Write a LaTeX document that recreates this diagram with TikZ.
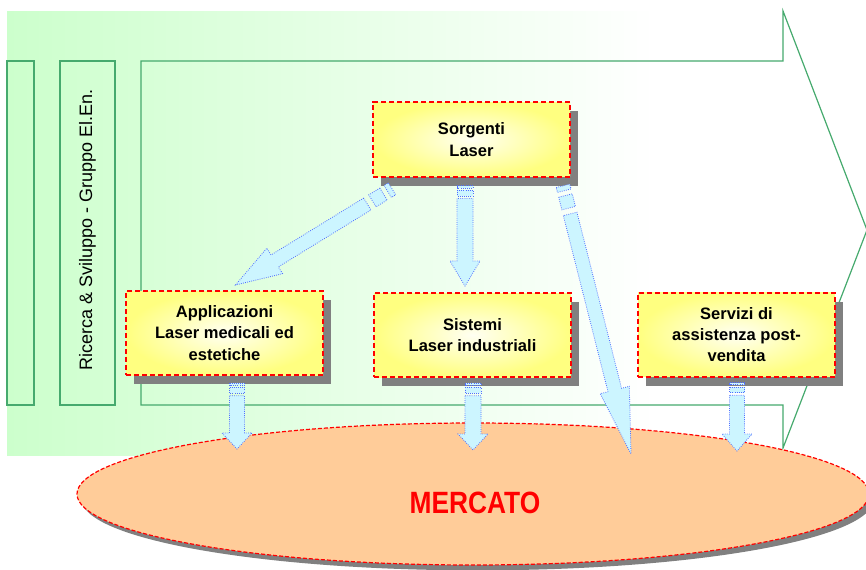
\documentclass[tikz,border=0pt]{standalone}
\usepackage{fontspec}
\setmainfont{Liberation Sans}
\usetikzlibrary{calc,shapes.geometric,shadows}

\definecolor{framegreen}{RGB}{70,170,110}
\definecolor{bggreen}{RGB}{204,255,204}
\definecolor{marketfill}{RGB}{255,204,153}
\definecolor{flowfill}{RGB}{204,245,255}
\definecolor{flowline}{RGB}{80,110,255}

% striped block arrow: from, to, head length, shaft half width, tail unit
\newcommand{\flowarrow}[5]{%
  \pgfpointdiff{\pgfpointanchor{#1}{center}}{\pgfpointanchor{#2}{center}}%
  \pgfgetlastxy{\flx}{\fly}%
  \pgfmathsetmacro{\flang}{atan2(\fly,\flx)}%
  \pgfmathsetmacro{\fllen}{veclen(\flx,\fly)/0.75}%
  \pgfmathsetmacro{\flhb}{\fllen-#3}%
  \begin{scope}[shift={(#1)}, rotate=\flang, x=0.75pt, y=0.75pt]
    \draw[flow] (0,-#4) rectangle (#5,#4);
    \draw[flow] (2*#5,-#4) rectangle (4.6*#5,#4);
    \draw[flow] (5.8*#5,-#4) -- (\flhb,-#4) -- (\flhb,-15) -- (\fllen,0)
      -- (\flhb,15) -- (\flhb,#4) -- (5.8*#5,#4) -- cycle;
  \end{scope}}

\begin{document}
\begin{tikzpicture}[x=0.75pt, y=-0.75pt,
    unit/.style = {draw=red, line width=1.5pt, dash pattern=on 3.75pt off 2.25pt,
      inner color=yellow!5, outer color=yellow!50,
      minimum width=147.75pt, minimum height=63pt, align=center,
      font=\fontsize{12.4}{16}\selectfont\bfseries,
      drop shadow={shadow xshift=6pt, shadow yshift=-6.75pt, fill=black!50, opacity=1}},
    market/.style = {ellipse, draw=red, line width=0.9pt, dash pattern=on 3pt off 1.5pt,
      fill=marketfill,
      drop shadow={shadow xshift=3.5pt, shadow yshift=-4pt, fill=black!50, opacity=1}},
    flow/.style = {fill=flowfill, draw=flowline, densely dotted, line width=0.6pt},
    frame/.style = {draw=framegreen, line width=0.9pt}]

        \fill[white] (0,0) rectangle (866,570);
        \useasboundingbox (0,0) rectangle (866,570);

        % Background
        \shade[left color=bggreen, right color=white] (7,12) rectangle (655,455);

        % Big arrow
        \draw[frame] (141,61) -- (783,61) -- (783,11) -- (867,230) -- (783,448)
          -- (783,405) -- (141,405) -- cycle;

        % Side bars
        \draw[frame] (7,61) rectangle (34,405);
        \draw[frame] (60,61) rectangle (115,405);
        \node[rotate=90, font=\fontsize{13.5}{16}\selectfont] (rs) at (87.5,230)
          {Ricerca \& Sviluppo - Gruppo El.En.};

        % Market
        \node[market, minimum width=594pt, minimum height=106.5pt] (merc) at (473,494) {};
        \node[text=red, font=\fontsize{21}{24}\selectfont\bfseries] (merclbl) at (475,503)
          {\scalebox{0.94}[1.1]{MERCATO}};

        % Units
        \node[unit, minimum height=56pt] (sorg) at (471.5,139.5) {Sorgenti\\Laser};
        \node[unit] (appl) at (224.5,333) {Applicazioni\\Laser medicali ed\\estetiche};
        \node[unit] (sist) at (472.5,335) {Sistemi\\Laser industriali};
        \node[unit] (serv) at (736.5,334.5) {Servizi di\\assistenza post-\\vendita};

        % Flow ends
        \coordinate (f1a) at ($(sorg.south west)+(20,11)$);
        \coordinate (f1b) at ($(appl.north)+(11,-5)$);
        \coordinate (f2a) at ($(sorg.south)+(-6.5,8)$);
        \coordinate (f2b) at ($(sist.north)+(-7.5,-6)$);
        \coordinate (f3a) at ($(sorg.south east)+(-8,8)$);
        \coordinate (f3b) at ($(merc.center)+(158,-40)$);
        \coordinate (f4a) at ($(appl.south)+(12.5,7)$);
        \coordinate (f4b) at ($(appl.south)+(12.5,73)$);
        \coordinate (f5a) at ($(sist.south)+(0.5,5)$);
        \coordinate (f5b) at ($(sist.south)+(0.5,72)$);
        \coordinate (f6a) at ($(serv.south)+(0.5,5)$);
        \coordinate (f6b) at ($(serv.south)+(0.5,73.5)$);

        % Flows
        \flowarrow{f1a}{f1b}{46}{7}{5}
        \flowarrow{f2a}{f2b}{25}{8}{2.2}
        \flowarrow{f3a}{f3b}{66}{7}{5}
        \flowarrow{f4a}{f4b}{16}{7.5}{2.2}
        \flowarrow{f5a}{f5b}{16}{8}{2.2}
        \flowarrow{f6a}{f6b}{17}{7.5}{2.2}
    \end{tikzpicture}
\end{document}
